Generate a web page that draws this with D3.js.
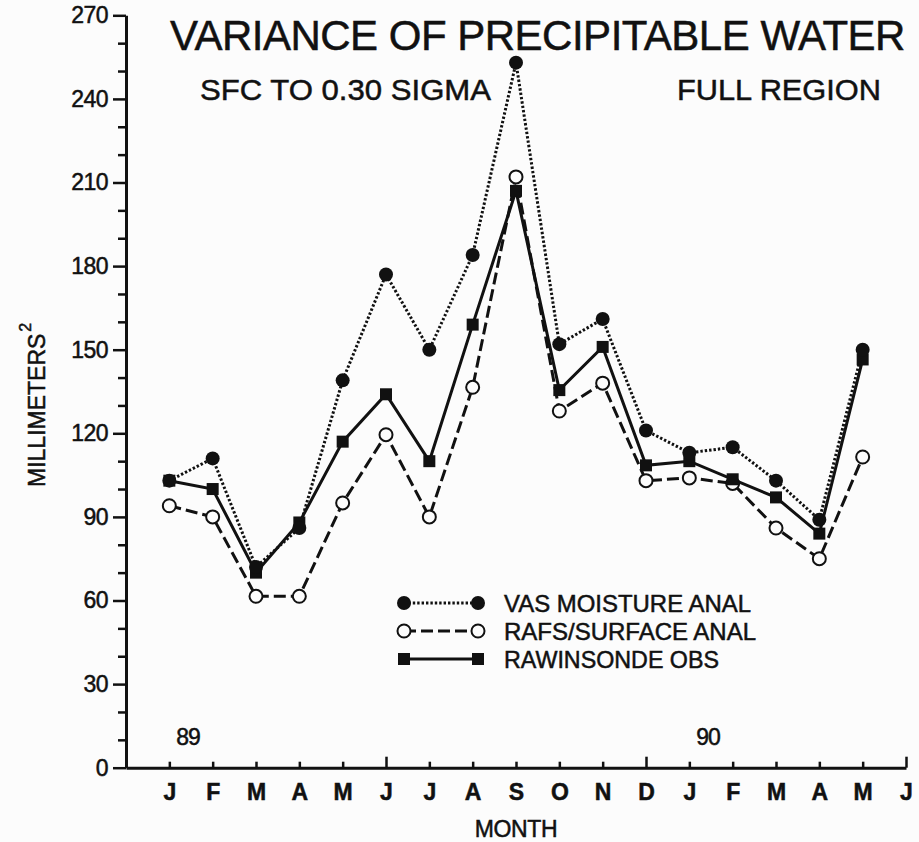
<!DOCTYPE html>
<html>
<head>
<meta charset="utf-8">
<script src="https://cdn.jsdelivr.net/npm/d3@7"></script>
<style>
  html, body { margin: 0; padding: 0; background: #fcfcfc; }
  svg { display: block; }
  text { font-family: "Liberation Sans", Arial, Helvetica, sans-serif; fill: #111; stroke: #111; stroke-width: 0.5px; }
</style>
</head>
<body>
<svg id="chart" width="919" height="842"></svg>
<script>
// Month axis labels (Jan 1989 .. Jun 1990)
const monthLabels = ["J","F","M","A","M","J","J","A","S","O","N","D","J","F","M","A","M","J"];
const yearLabels = [{ label: "89", index: 0 }, { label: "90", index: 12 }];

// Variance of precipitable water, mm^2, Jan 1989 .. May 1990
const vasMoisture = [103, 111, 72, 86, 139, 177, 150, 184, 253, 152, 161, 121, 113, 115, 103, 89, 150];
const rafsSurface = [94, 90, 61.5, 61.5, 95, 119.5, 90, 136.5, 212, 128, 138, 103, 104, 102, 86, 75, 111.5];
const rawinsonde  = [103, 100, 70, 88, 117, 134, 110, 159, 207, 135.5, 151, 108.5, 110, 103.5, 97, 84, 146.5];

const seriesNames = ["VAS MOISTURE ANAL", "RAFS/SURFACE ANAL", "RAWINSONDE OBS"];
const yMajorTicks = [0, 30, 60, 90, 120, 150, 180, 210, 240, 270];
const yMinorTicks = d3.range(0, 271, 10).filter(v => v % 30 !== 0);

const svg = d3.select("#chart");
const ink = "#111";

const x = d3.scaleLinear().domain([-1, 17]).range([126, 906]);
const y = d3.scaleLinear().domain([0, 270]).range([767.7, 15.3]);

// ---- Y axis: major ticks with labels, minor ticks every 10
const yAxisG = svg.append("g").attr("transform", `translate(${x(-1)},0)`)
  .call(d3.axisLeft(y).tickValues(yMajorTicks).tickSize(13).tickSizeOuter(0).tickPadding(5).tickFormat(d3.format("d")));
yAxisG.select(".domain").attr("stroke", ink).attr("stroke-width", 3);
yAxisG.selectAll(".tick line").attr("stroke", ink).attr("stroke-width", 2.5);
yAxisG.selectAll(".tick text").style("font-size", "23px").attr("fill", ink)
  .style("letter-spacing", "-0.5px");

const yMinorG = svg.append("g").attr("transform", `translate(${x(-1)},0)`)
  .call(d3.axisLeft(y).tickValues(yMinorTicks).tickSize(8).tickSizeOuter(0).tickFormat(""));
yMinorG.select(".domain").remove();
yMinorG.selectAll(".tick line").attr("stroke", ink).attr("stroke-width", 2.5);

// ---- X axis: inward month ticks, taller every six months
const xAxisG = svg.append("g").attr("transform", `translate(0,${y(0)})`)
  .call(d3.axisBottom(x).tickValues(d3.range(0, monthLabels.length)).tickSize(-6).tickSizeOuter(0)
    .tickPadding(16).tickFormat(i => monthLabels[i]));
xAxisG.select(".domain").attr("stroke", ink).attr("stroke-width", 3);
xAxisG.selectAll(".tick line").attr("stroke", ink).attr("stroke-width", 2.5)
  .attr("y2", i => (i % 6 === 5) ? -11 : -6);
xAxisG.selectAll(".tick text").style("font-size", "23px").style("font-weight", "bold").attr("fill", ink);

// Year markers above the month axis
svg.selectAll("text.year").data(yearLabels).enter().append("text")
  .attr("class", "year")
  .attr("x", d => x(d.index) + 7)
  .attr("y", 745)
  .style("font-size", "23px")
  .style("letter-spacing", "-1px")
  .text(d => d.label);

// ---- Axis titles
svg.append("text")
  .attr("x", x(8))
  .attr("y", 837)
  .attr("text-anchor", "middle")
  .style("font-size", "23px")
  .style("letter-spacing", "-0.4px")
  .text("MONTH");

const yTitle = svg.append("text")
  .attr("transform", "translate(45,487) rotate(-90)")
  .style("font-size", "23px")
  .text("MILLIMETERS");
yTitle.append("tspan").attr("dy", -14).attr("dx", 2).style("font-size", "16px").text("2");

// ---- Chart titles
svg.append("text")
  .attr("x", 170).attr("y", 50)
  .style("font-size", "42px")
  .style("letter-spacing", "-0.5px")
  .text("VARIANCE OF PRECIPITABLE WATER");
svg.append("text")
  .attr("x", 200).attr("y", 100)
  .style("font-size", "30px")
  .attr("textLength", 291).attr("lengthAdjust", "spacingAndGlyphs")
  .text("SFC TO 0.30 SIGMA");
svg.append("text")
  .attr("x", 677).attr("y", 100)
  .style("font-size", "30px")
  .attr("textLength", 204).attr("lengthAdjust", "spacingAndGlyphs")
  .text("FULL REGION");

// ---- Series
const seriesStyles = [
  { values: vasMoisture, dash: "2.4,2", marker: "dot" },
  { values: rafsSurface, dash: "12,5", marker: "ring" },
  { values: rawinsonde, dash: null, marker: "square" }
];

const line = d3.line().x((d, i) => x(i)).y(d => y(d));

function drawMarker(g, type, cx, cy) {
  if (type === "dot") {
    g.append("circle").attr("cx", cx).attr("cy", cy).attr("r", 7).attr("fill", ink);
  } else if (type === "ring") {
    g.append("circle").attr("cx", cx).attr("cy", cy).attr("r", 6.5)
      .attr("fill", "#fcfcfc").attr("stroke", ink).attr("stroke-width", 2);
  } else {
    g.append("rect").attr("x", cx - 6).attr("y", cy - 6).attr("width", 12).attr("height", 12).attr("fill", ink);
  }
}

const plot = svg.append("g");
// rings first so the filled markers sit on top where they coincide
[1, 2, 0].forEach(k => {
  const s = seriesStyles[k];
  const g = plot.append("g");
  g.append("path").datum(s.values)
    .attr("d", line)
    .attr("fill", "none")
    .attr("stroke", ink)
    .attr("stroke-width", 3)
    .attr("stroke-dasharray", s.dash);
  s.values.forEach((v, i) => drawMarker(g, s.marker, x(i), y(v)));
});

// ---- Legend
const legendRows = [603, 631, 659];
const legendWidths = [247, 252, 215];
seriesStyles.forEach((s, k) => {
  const g = svg.append("g");
  const cy = legendRows[k];
  g.append("line").attr("x1", 404).attr("x2", 478).attr("y1", cy).attr("y2", cy)
    .attr("stroke", ink).attr("stroke-width", 3).attr("stroke-dasharray", s.dash);
  drawMarker(g, s.marker, 404, cy);
  drawMarker(g, s.marker, 478, cy);
  g.append("text").attr("x", 504).attr("y", cy + 9)
    .style("font-size", "24px")
    .attr("textLength", legendWidths[k]).attr("lengthAdjust", "spacingAndGlyphs")
    .text(seriesNames[k]);
});
</script>
</body>
</html>
